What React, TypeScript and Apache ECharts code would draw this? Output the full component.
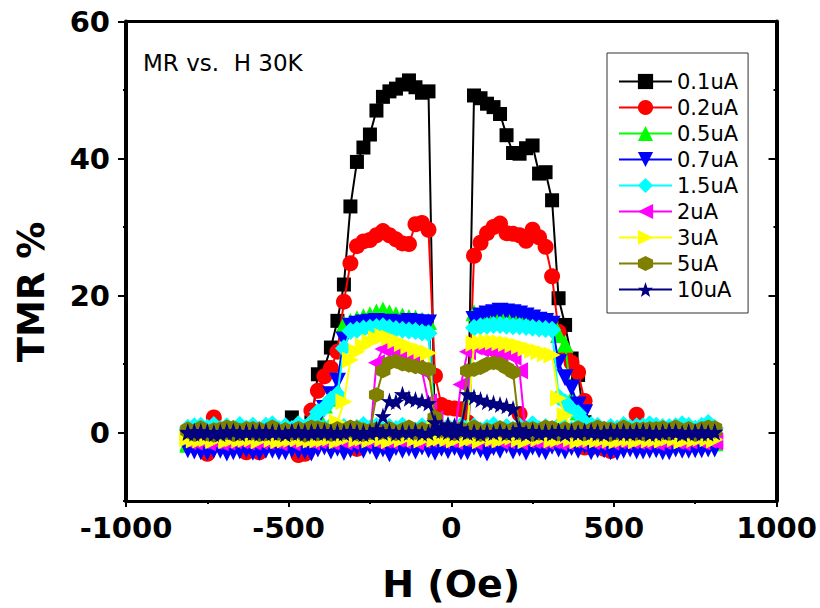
import React, { useEffect, useRef } from 'react';
import * as echarts from 'echarts';

// Field grid (Oe), ascending
const H = [
  -810, -790, -770, -750, -730, -710, -690, -670, -650, -630,
  -610, -590, -570, -550, -530, -510, -490, -470, -450, -430,
  -410, -390, -370, -350, -330, -310, -290, -270, -250, -230,
  -210, -190, -170, -150, -130, -110, -90, -70, -50, -30,
  -10, 10, 30, 50, 70, 90, 110, 130, 150, 170,
  190, 210, 230, 250, 270, 290, 310, 330, 350, 370,
  390, 410, 430, 450, 470, 490, 510, 530, 550, 570,
  590, 610, 630, 650, 670, 690, 710, 730, 750, 770,
  790, 810,
];

// TMR (%) on the down sweep (+810 -> -810) and the up sweep (-810 -> +810), indexed like H
const uA01Down = [
  -0.4, -0.6, -0.2, -0.5, -0.3, -0.7, -0.4, -0.2, -0.6, -0.5,
  -0.3, -0.5, -0.4, -0.8, -0.3, -0.2, 2.2, -0.4, -0.6, 1.5,
  8.5, 9.5, 12.4, 16.3, 21.6, 33.0, 39.5, 41.6, 43.5, 47.0,
  49.0, 49.8, 50.2, 50.8, 51.4, 50.4, 49.6, 49.8, -1.5, -0.8,
  -0.6, -0.4, -0.7, -0.5, -0.3, -0.6, -0.4, -0.5, -0.2, -0.6,
  -0.4, -0.3, -0.7, -0.5, -0.4, -0.2, -0.6, -0.5, -0.3, -0.4,
  -0.6, -0.5, -0.3, -0.7, -0.4, -0.2, -0.5, -0.6, -0.3, -0.4,
  -0.5, -0.7, -0.3, -0.4, -0.6, -0.2, -0.5, -0.4, -0.6, -0.3,
  -0.5, -0.4,
];
const uA01Up = [
  -0.5, -0.3, -0.6, -0.4, -0.7, -0.5, -0.3, -0.6, -0.4, -0.5,
  -0.2, -0.6, -0.4, -0.5, -0.3, -0.7, -0.4, -0.5, -0.6, -0.3,
  -0.4, -0.5, -0.2, -0.6, -0.4, -0.5, -0.3, -0.6, -0.4, -0.5,
  -0.7, -0.4, -0.3, -0.6, -0.5, -0.4, -0.6, -0.3, -0.5, -0.4,
  -0.6, -0.8, -1.0, -1.2, 49.2, 48.8, 48.0, 47.5, 46.5, 43.4,
  40.8, 40.7, 41.5, 41.9, 37.8, 38.0, 33.9, 19.6, 15.7, 10.8,
  8.4, 1.5, -0.3, -0.5, -0.4, -0.6, -0.3, -0.5, -0.4, -0.6,
  -0.3, -0.5, -0.4, -0.7, -0.5, -0.3, -0.6, -0.4, -0.5, -0.3,
  -0.6, -0.4,
];

const uA02Down = [
  -1.2, -0.8, -1.5, -3.1, 2.2, -0.9, -1.3, -1.1, -1.6, -2.9,
  -1.0, -2.9, -1.4, -0.8, -1.2, -1.5, -0.9, -1.3, -3.1, 3.2,
  6.1, 8.2, 9.4, 11.8, 19.1, 24.7, 27.2, 27.9, 28.1, 28.8,
  29.4, 28.8, 28.2, 27.6, 27.5, 30.4, 30.6, 29.6, 8.3, 4.0,
  3.6, 3.5, 3.4, 1.5, -0.9, -1.2, -2.1, -1.0, -1.4, -0.8,
  -1.1, 2.7, -1.3, -0.9, -1.5, -1.2, -0.8, -1.4, -1.0, -1.3,
  -1.6, -2.2, -1.1, -0.9, -2.4, -1.2, -1.0, -1.4, -0.8, 2.6,
  -1.1, -1.3, -0.9, -1.2, -1.5, -1.0, -1.3, -1.1, -1.7, -1.4,
  -1.2, -1.0,
];
const uA02Up = [
  -1.0, -1.3, -0.9, -1.4, -1.1, -1.2, -0.8, -1.5, -1.0, -1.3,
  -1.1, -1.4, -0.9, -1.2, -1.0, -1.6, -1.3, -3.3, -1.1, -1.4,
  -1.2, -0.9, -1.5, -1.1, -1.3, -1.0, -2.4, -1.2, -1.4, -0.9,
  -1.1, -1.3, -1.0, -1.5, -1.2, -0.8, -1.4, -1.1, -1.3, -1.0,
  -1.2, -0.9, -0.7, -0.5, 25.8, 27.7, 29.1, 30.0, 30.5, 29.1,
  29.0, 28.8, 28.0, 29.6, 28.5, 27.1, 22.8, 14.7, 11.5, 10.2,
  8.8, 4.6, -2.2, -1.2, -1.4, -2.7, -1.0, -1.3, -1.1, -0.9,
  -1.4, -1.2, -1.0, -1.5, -1.1, -1.3, -0.9, -1.2, -1.6, -1.4,
  -1.1, -1.3,
];

const uA05Down = [
  -1.7, -1.2, -0.9, -1.3, -1.0, -1.4, -1.1, -0.8, -1.2, -1.0,
  -1.3, -0.9, -1.1, -1.4, -1.0, -1.2, -0.8, -1.3, -1.1, 1.0,
  2.7, 4.0, 5.0, 6.2, 15.8, 16.2, 16.6, 16.9, 17.2, 17.6,
  17.9, 17.5, 17.2, 17.0, 16.8, 16.7, 16.4, 16.2, 0.5, -0.8,
  -1.0, -1.2, -0.9, -1.1, -1.3, -1.0, -0.8, -1.2, -1.4, -1.0,
  -1.1, -0.9, -1.3, -1.0, -1.2, -0.8, -1.1, -1.4, -1.0, -1.2,
  -0.9, -1.3, -1.1, -1.0, -1.2, -0.8, -1.3, -1.1, -0.9, -1.2,
  -1.0, -1.4, -1.1, -0.9, -1.2, -1.0, -1.3, -0.8, -1.1, -1.0,
  -1.2, -1.5,
];
const uA05Up = [
  -1.5, -1.0, -1.3, -0.9, -1.2, -1.1, -0.8, -1.4, -1.0, -1.2,
  -0.9, -1.3, -1.1, -1.0, -1.2, -0.8, -1.4, -1.1, -0.9, -1.3,
  -1.0, -1.2, -0.9, -1.3, -1.1, -1.0, -0.8, -1.2, -1.4, -1.0,
  -1.1, -0.9, -1.3, -1.0, -1.2, -0.8, -1.1, -1.4, -1.0, -1.2,
  -0.9, -1.1, -1.0, -0.6, 17.5, 17.3, 17.1, 17.0, 16.9, 16.9,
  16.8, 16.8, 16.7, 16.6, 16.5, 16.4, 16.3, 14.3, 12.9, 5.0,
  3.0, 1.5, -0.8, -1.1, -1.3, -1.0, -1.2, -0.9, -1.1, -1.4,
  -1.0, -1.2, -0.8, -1.1, -1.3, -1.0, -0.9, -1.2, -1.1, -1.0,
  -1.3, -0.9,
];

const uA07Down = [
  -2.5, -2.0, -2.8, -2.2, -2.6, -1.9, -3.0, -2.3, -2.7, -2.1,
  -2.4, -2.9, -2.0, -2.6, -2.2, -2.8, -2.3, -1.9, -2.7, 0.5,
  2.0, 3.5, 5.5, 7.5, 13.5, 15.5, 15.8, 16.0, 16.1, 16.2,
  16.0, 16.1, 15.9, 16.0, 16.2, 16.1, 16.0, 16.0, -1.0, -2.2,
  -2.6, -2.0, -2.4, -2.8, -2.1, -2.5, -3.0, -2.2, -2.6, -1.9,
  -2.7, -2.3, -2.9, -2.1, -2.5, -2.8, -2.0, -2.4, -2.7, -2.2,
  -2.6, -1.9, -2.8, -2.3, -2.5, -2.1, -2.9, -2.4, -2.0, -2.7,
  -2.3, -2.6, -2.1, -2.8, -2.4, -2.0, -2.6, -2.2, -2.5, -2.1,
  -2.4, -2.0,
];
const uA07Up = [
  -2.2, -2.7, -2.1, -2.9, -2.4, -2.6, -2.0, -2.8, -2.3, -2.5,
  -2.9, -2.1, -2.6, -2.3, -2.8, -2.0, -2.5, -2.7, -2.2, -3.0,
  -2.4, -2.1, -2.7, -2.3, -2.9, -2.5, -2.2, -2.6, -2.0, -2.8,
  -2.4, -3.1, -2.2, -2.6, -2.3, -2.7, -2.1, -2.5, -2.9, -2.3,
  -2.6, -2.2, -2.8, -1.9, 16.5, 17.0, 17.3, 17.5, 17.7, 17.6,
  17.5, 17.3, 17.0, 16.7, 16.4, 16.2, 15.8, 10.2, 8.0, 6.5,
  4.0, 2.9, 0.5, -2.5, -2.3, -2.8, -2.2, -2.6, -2.4, -2.0,
  -2.7, -2.3, -2.5, -2.1, -2.8, -2.4, -2.2, -2.6, -2.3, -2.5,
  -2.1, -2.4,
];

const uA15Down = [
  0.4, 0.9, 0.3, 0.7, 1.1, 0.5, 0.8, 0.2, 0.9, 0.6,
  1.0, 0.4, 0.7, 1.2, 0.5, 0.8, 0.3, 0.9, 0.6, 1.5,
  3.0, 3.6, 4.8, 5.6, 12.3, 14.8, 15.0, 15.2, 15.3, 15.4,
  15.5, 15.3, 15.1, 15.0, 14.9, 14.8, 14.6, 14.5, 1.0, 0.6,
  0.8, 0.4, 1.0, 0.6, 0.9, 0.3, 0.7, 1.1, 0.5, 0.8,
  0.4, 0.9, 0.6, 1.2, 0.5, 0.8, 0.3, 1.0, 0.7, 0.4,
  0.9, 0.5, 1.1, 0.7, 0.3, 0.8, 0.6, 1.0, 0.4, 0.9,
  0.6, 1.2, 0.5, 0.8, 0.3, 0.9, 0.6, 1.0, 0.5, 0.8,
  1.3, 0.7,
];
const uA15Up = [
  0.7, 0.3, 1.0, 0.5, 0.8, 0.4, 0.9, 0.6, 1.1, 0.5,
  0.8, 0.4, 1.0, 0.6, 0.3, 0.9, 0.5, 1.2, 0.7, 0.4,
  0.9, 0.6, 1.0, 0.5, 0.8, 0.3, 0.7, 1.1, 0.6, 0.9,
  0.4, 0.8, 0.5, 1.0, 0.6, 0.3, 0.9, 0.7, 1.2, 0.5,
  0.8, 0.6, 1.0, 0.7, 15.3, 15.5, 15.6, 15.7, 15.7, 15.6,
  15.5, 15.5, 15.4, 15.3, 15.2, 15.1, 15.0, 5.2, 4.4, 3.4,
  2.8, 1.5, 0.6, 1.0, 0.4, 0.8, 0.5, 1.1, 0.7, 0.3,
  0.9, 0.6, 1.0, 0.5, 0.8, 0.4, 1.2, 0.7, 0.5, 1.0,
  1.4, 0.6,
];

const uA2Down = [
  -1.0, -1.4, -1.1, -0.8, -1.3, -1.5, -1.0, -1.2, -0.9, -1.4,
  -1.1, -1.3, -0.8, -1.2, -1.5, -1.0, -1.3, -0.9, -1.1, -1.4,
  -1.2, -0.9, -1.3, -1.0, -1.4, -1.1, -0.8, -1.2, -1.0, 10.2,
  12.2, 12.0, 11.8, 11.6, 11.3, 10.5, 9.0, 4.5, 2.0, -0.5,
  -1.0, -1.3, -0.9, -1.2, -1.4, -1.0, -1.1, -0.8, -1.3, -1.2,
  -0.9, -1.4, -1.1, -1.0, -1.3, -0.8, -1.2, -1.5, -1.0, -1.1,
  -1.3, -0.9, -1.2, -1.4, -1.0, -1.1, -0.8, -1.3, -1.2, -1.0,
  -1.4, -1.1, -0.9, -1.3, -1.0, -1.2, -1.5, -1.1, -0.8, -1.3,
  -1.1, -1.4,
];
const uA2Up = [
  -1.3, -1.0, -1.2, -1.5, -0.9, -1.1, -1.4, -1.0, -1.2, -0.8,
  -1.4, -1.1, -1.3, -0.9, -1.2, -1.0, -1.5, -1.1, -0.8, -1.3,
  -1.0, -1.2, -1.4, -0.9, -1.1, -1.3, -1.0, -1.2, -0.8, -1.4,
  -1.1, -1.3, -1.0, -1.2, -0.9, -1.4, -1.1, -1.0, -0.8, -1.2,
  -1.0, -0.5, 7.0, 11.8, 12.5, 12.2, 12.0, 11.8, 11.6, 11.5,
  11.0, 9.0, -0.8, -1.2, -1.0, -1.3, -0.9, -1.1, -1.4, -1.0,
  -1.2, -0.8, -1.3, -1.1, -1.0, -1.4, -1.2, -0.9, -1.1, -1.3,
  -1.0, -1.2, -1.5, -0.9, -1.1, -1.3, -1.0, -1.2, -0.8, -1.4,
  -1.1, -1.2,
];

const uA3Down = [
  -0.8, -1.1, -0.6, -0.9, -1.2, -0.7, -1.0, -0.8, -1.1, -0.6,
  -0.9, -1.2, -0.7, -1.0, -0.8, -1.1, -0.6, -0.9, -1.0, -0.7,
  -1.1, -0.8, -0.5, 1.5, 4.5, 10.6, 11.8, 12.6, 13.2, 13.7,
  14.0, 13.8, 13.4, 13.0, 12.6, 12.2, 11.9, 11.6, 0.5, -0.6,
  -0.9, -1.1, -0.7, -1.0, -0.8, -1.2, -0.6, -0.9, -1.1, -0.8,
  -0.7, -1.0, -1.2, -0.8, -0.9, -0.6, -1.1, -1.0, -0.7, -0.9,
  -1.2, -0.8, -1.0, -0.6, -0.9, -1.1, -0.7, -1.0, -0.8, -1.2,
  -0.9, -0.6, -1.0, -1.1, -0.8, -0.7, -1.2, -0.9, -1.0, -0.8,
  -0.6, -1.0,
];
const uA3Up = [
  -0.9, -0.6, -1.1, -0.8, -1.0, -0.7, -1.2, -0.9, -0.6, -1.0,
  -0.8, -1.1, -0.7, -0.9, -1.2, -0.8, -1.0, -0.6, -0.9, -1.1,
  -0.7, -1.0, -0.8, -1.2, -0.9, -0.6, -1.0, -0.8, -1.1, -0.7,
  -0.9, -1.2, -0.8, -1.0, -0.6, -0.9, -1.1, -0.7, -1.0, -0.8,
  -0.6, -0.9, -0.7, 0.5, 13.0, 13.1, 13.2, 13.2, 13.1, 13.0,
  12.8, 12.6, 12.3, 12.0, 11.8, 11.5, 11.3, 5.0, 2.5, 0.3,
  -0.8, -1.0, -0.7, -1.1, -0.9, -0.6, -1.2, -0.8, -1.0, -0.9,
  -0.7, -1.1, -0.8, -1.0, -0.6, -0.9, -1.2, -0.8, -1.0, -0.7,
  -0.9, -1.1,
];

const uA5Down = [
  0.2, -0.3, 0.6, 0.1, -0.4, 0.5, 0.0, 0.7, -0.2, 0.3,
  0.6, -0.3, 0.2, 0.8, -0.1, 0.4, 0.0, 0.6, -0.4, 0.3,
  0.7, 0.1, -0.3, 0.5, 0.2, 0.8, -0.2, 0.4, 0.0, 5.5,
  9.0, 10.2, 10.4, 10.0, 9.8, 9.6, 9.5, 9.2, 2.2, 0.5,
  0.3, -0.2, 0.6, 0.1, 0.8, -0.3, 0.4, 0.2, 0.7, -0.1,
  0.5, 0.0, 0.6, -0.3, 0.3, 0.8, 0.1, -0.2, 0.5, 0.2,
  0.7, -0.1, 0.4, 0.0, 0.6, -0.3, 0.3, 0.8, 0.1, 0.5,
  -0.2, 0.6, 0.2, 0.7, -0.1, 0.4, 0.0, 0.6, -0.3, 0.3,
  0.8, 0.2,
];
const uA5Up = [
  0.5, 0.0, 0.7, -0.2, 0.4, 0.1, 0.8, -0.3, 0.3, 0.6,
  0.0, 0.5, -0.2, 0.7, 0.2, 0.4, -0.1, 0.6, 0.3, 0.8,
  -0.2, 0.5, 0.1, 0.6, 0.0, 0.4, 0.7, -0.3, 0.3, 0.5,
  0.1, 0.6, -0.2, 0.4, 0.8, 0.0, 0.5, 0.2, 0.6, 0.3,
  0.7, 0.2, 0.5, 9.0, 9.2, 9.5, 10.0, 10.2, 10.0, 9.4,
  8.8, 0.5, 0.2, 0.6, -0.1, 0.4, 0.7, 0.0, 0.5, 0.3,
  0.6, -0.2, 0.4, 0.8, 0.1, 0.5, 0.0, 0.7, 0.3, -0.1,
  0.5, 0.2, 0.6, 0.0, 0.4, 0.8, 0.1, 0.5, -0.2, 0.6,
  0.3, 0.7,
];

const uA10Down = [
  0.0, 0.2, -0.1, 0.1, 0.0, -0.2, 0.2, 0.1, -0.1, 0.0,
  0.1, -0.1, 0.2, 0.0, 0.1, -0.2, 0.0, 0.2, -0.1, 0.1,
  0.0, 0.2, -0.1, 0.1, 0.0, 0.2, -0.2, 0.1, 0.0, 0.5,
  2.4, 4.6, 4.5, 5.6, 5.0, 4.8, 4.6, 4.3, 1.5, 0.3,
  0.1, -0.1, 0.2, 0.0, 0.1, -0.2, 0.1, 0.0, 0.2, -0.1,
  0.1, 0.0, -0.2, 0.2, 0.0, 0.1, -0.1, 0.2, 0.0, 0.1,
  -0.1, 0.2, 0.0, 0.1, -0.2, 0.1, 0.0, 0.2, -0.1, 0.0,
  0.2, 0.1, -0.1, 0.0, 0.1, 0.2, -0.2, 0.0, 0.1, -0.1,
  0.0, 0.1,
];
const uA10Up = [
  0.1, -0.1, 0.2, 0.0, -0.2, 0.1, 0.0, 0.2, -0.1, 0.1,
  0.0, 0.2, -0.1, 0.1, 0.0, -0.2, 0.2, 0.0, 0.1, -0.1,
  0.2, 0.0, 0.1, -0.1, 0.0, 0.2, 0.1, -0.2, 0.0, 0.1,
  0.0, 0.2, -0.1, 0.1, 0.0, 0.2, -0.1, 0.0, 0.3, 0.8,
  1.2, 1.0, 0.6, 5.6, 5.2, 4.8, 4.5, 4.3, 4.1, 3.9,
  3.5, 0.5, 0.0, 0.2, -0.1, 0.1, 0.0, 0.2, -0.2, 0.1,
  0.0, 0.1, 0.2, -0.1, 0.0, 0.2, 0.1, -0.1, 0.0, 0.2,
  0.1, -0.2, 0.0, 0.1, 0.2, 0.0, -0.1, 0.1, 0.0, 0.2,
  -0.1, 0.1,
];

const seriesNames = ['0.1uA', '0.2uA', '0.5uA', '0.7uA', '1.5uA', '2uA', '3uA', '5uA', '10uA'];
const yTickLabels = [0, 20, 40, 60];
const xTickLabels = [-1000, -500, 0, 500, 1000];

const HEX = 'path://M50,0 L93.3,25 L93.3,75 L50,100 L6.7,75 L6.7,25 Z';
const STAR =
  'path://M50,0 L61.8,35.4 L98.1,34.5 L69.1,57.3 L79.4,90.5 L50,70 L20.6,90.5 L30.9,57.3 L1.9,34.5 L38.2,35.4 Z';

const styles = [
  { color: '#000000', symbol: 'rect', size: 14, rotate: 0 },
  { color: '#ff0000', symbol: 'circle', size: 16, rotate: 0 },
  { color: '#00ff00', symbol: 'triangle', size: 17, rotate: 0 },
  { color: '#0000ff', symbol: 'triangle', size: 17, rotate: 180 },
  { color: '#00ffff', symbol: 'diamond', size: 18, rotate: 0 },
  { color: '#ff00ff', symbol: 'triangle', size: 17, rotate: 90 },
  { color: '#ffff00', symbol: 'triangle', size: 17, rotate: -90 },
  { color: '#808000', symbol: HEX, size: 15, rotate: 0 },
  { color: '#000080', symbol: STAR, size: 17, rotate: 0 },
];

const sweeps: [number[], number[]][] = [
  [uA01Down, uA01Up],
  [uA02Down, uA02Up],
  [uA05Down, uA05Up],
  [uA07Down, uA07Up],
  [uA15Down, uA15Up],
  [uA2Down, uA2Up],
  [uA3Down, uA3Up],
  [uA5Down, uA5Up],
  [uA10Down, uA10Up],
];

function loop(down: number[], up: number[]) {
  const pts: number[][] = [];
  for (let i = H.length - 1; i >= 0; i--) pts.push([H[i], down[i]]);
  for (let i = 0; i < H.length; i++) pts.push([H[i], up[i]]);
  return pts;
}

const FONT = 'DejaVu Sans';

export default function App() {
  const ref = useRef<HTMLDivElement>(null);
  useEffect(() => {
    if (!ref.current) return;
    const chart = echarts.init(ref.current, undefined, { renderer: 'svg' });
    const yRange = { min: -10, max: 60 };
    const xRange = { min: -1000, max: 1000 };
    const option: any = {
      animation: false,
      backgroundColor: '#ffffff',
      title: {
        text: 'MR vs.  H 30K',
        left: 143,
        top: 51,
        padding: 0,
        textStyle: { fontFamily: FONT, fontSize: 23, fontWeight: 'normal', color: '#000' },
      },
      legend: {
        orient: 'vertical',
        left: 607,
        top: 53,
        padding: [18, 10, 13, 11],
        itemGap: 5,
        itemWidth: 53,
        itemHeight: 19,
        borderColor: '#333',
        borderWidth: 1,
        backgroundColor: '#fff',
        selectedMode: false,
        textStyle: { fontFamily: FONT, fontSize: 21, color: '#000' },
        data: seriesNames,
      },
      grid: { left: 126, right: 43.5, top: 21.5, bottom: 103.7, containLabel: false },
      xAxis: [
        {
          type: 'value',
          position: 'bottom',
          ...xRange,
          interval: 500,
          name: 'H (Oe)',
          nameLocation: 'middle',
          nameGap: 64,
          nameTextStyle: { fontFamily: FONT, fontSize: 38, fontWeight: 'bold', color: '#000' },
          axisLine: { show: true, onZero: false, lineStyle: { color: '#000', width: 3 } },
          axisTick: { show: true, inside: false, length: 6, lineStyle: { color: '#000', width: 2 } },
          minorTick: { show: true, splitNumber: 2, length: 3, lineStyle: { color: '#000', width: 2 } },
          axisLabel: {
            margin: 12,
            fontFamily: FONT,
            fontSize: 29,
            fontWeight: 'bold',
            color: '#000',
            formatter: (v: number) => (xTickLabels.includes(v) ? String(v) : ''),
          },
          splitLine: { show: false },
        },
        {
          type: 'value',
          position: 'top',
          ...xRange,
          interval: 500,
          axisLine: { show: true, onZero: false, lineStyle: { color: '#000', width: 3 } },
          axisTick: { show: false },
          axisLabel: { show: false },
          splitLine: { show: false },
        },
      ],
      yAxis: [
        {
          type: 'value',
          position: 'left',
          ...yRange,
          interval: 10,
          axisLine: { show: true, onZero: false, lineStyle: { color: '#000', width: 4 } },
          axisTick: { show: true, inside: false, length: 3, lineStyle: { color: '#000', width: 2 } },
          axisLabel: {
            margin: 16,
            fontFamily: FONT,
            fontSize: 29,
            fontWeight: 'bold',
            color: '#000',
            formatter: (v: number) => (yTickLabels.includes(v) ? String(v) : ''),
          },
          splitLine: { show: false },
        },
        {
          type: 'value',
          position: 'left',
          ...yRange,
          axisLine: { show: false, onZero: false },
          axisTick: {
            show: true,
            inside: false,
            length: 8,
            customValues: yTickLabels,
            lineStyle: { color: '#000', width: 2 },
          },
          axisLabel: { show: false },
          splitLine: { show: false },
        },
        {
          type: 'value',
          position: 'right',
          ...yRange,
          interval: 10,
          axisLine: { show: true, onZero: false, lineStyle: { color: '#000', width: 4 } },
          axisTick: { show: true, inside: true, length: 3, lineStyle: { color: '#000', width: 2 } },
          axisLabel: { show: false },
          splitLine: { show: false },
        },
        {
          type: 'value',
          position: 'right',
          ...yRange,
          axisLine: { show: false, onZero: false },
          axisTick: {
            show: true,
            inside: true,
            length: 8,
            customValues: [0, 20, 40],
            lineStyle: { color: '#000', width: 2 },
          },
          axisLabel: { show: false },
          splitLine: { show: false },
        },
      ],
      graphic: [
        {
          type: 'text',
          x: 31.5,
          y: 292,
          rotation: Math.PI / 2,
          style: {
            text: 'TMR %',
            fontFamily: FONT,
            fontSize: 37,
            fontWeight: 'bold',
            fill: '#000',
            textAlign: 'center',
            textVerticalAlign: 'middle',
          },
        },
      ],
      series: seriesNames.map((name, k) => ({
        name,
        type: 'line',
        xAxisIndex: 0,
        yAxisIndex: 0,
        data: loop(sweeps[k][0], sweeps[k][1]),
        symbol: styles[k].symbol,
        symbolSize: styles[k].size,
        symbolRotate: styles[k].rotate,
        showSymbol: true,
        silent: true,
        itemStyle: { color: styles[k].color, borderWidth: 0 },
        lineStyle: { color: styles[k].color, width: 2 },
        emphasis: { disabled: true },
        z: 2 + k,
      })),
    };
    chart.setOption(option);
    return () => chart.dispose();
  }, []);
  return (
    <div
      ref={ref}
      style={{ position: 'absolute', left: 0, top: 0, width: 820, height: 608, background: '#fff' }}
    />
  );
}
